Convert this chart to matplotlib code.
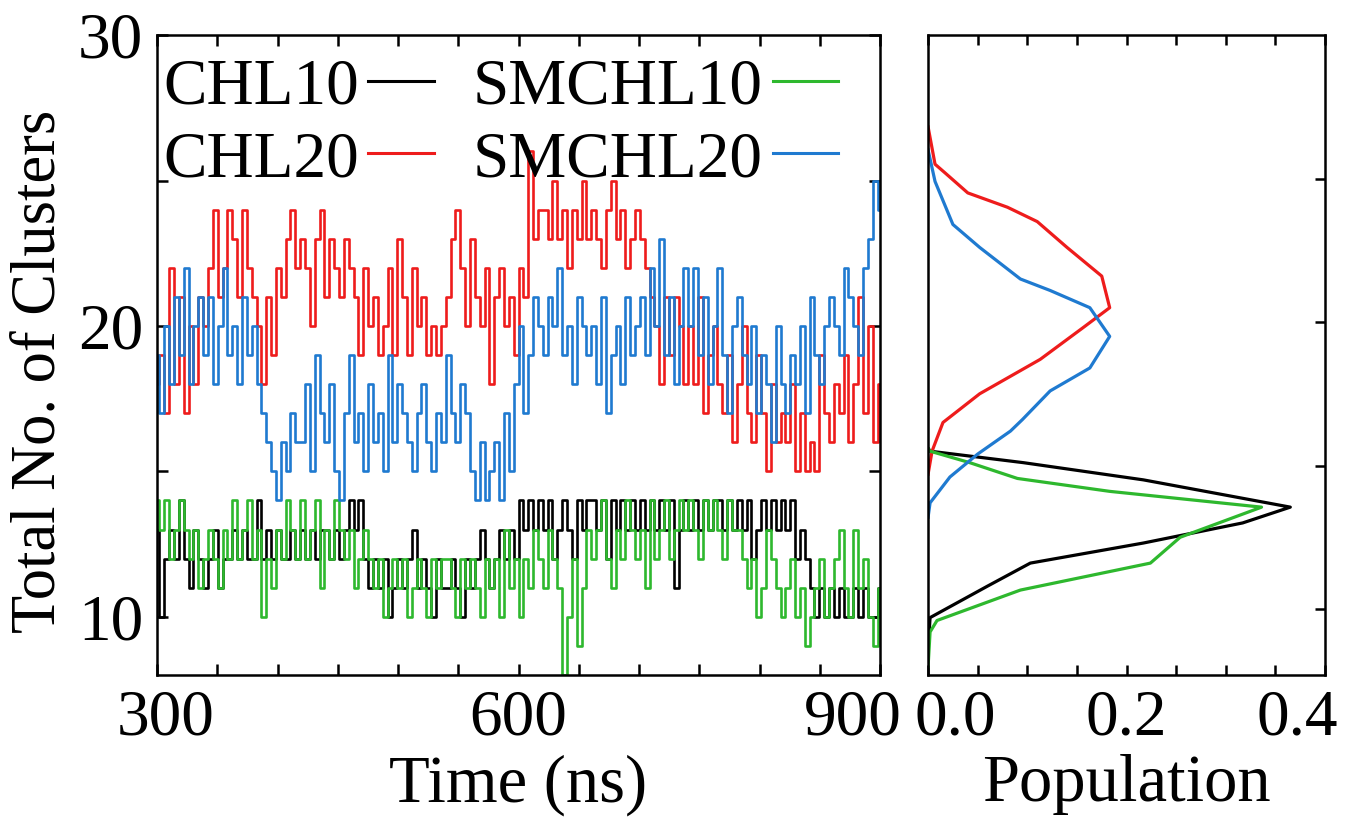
import numpy as np
import matplotlib
matplotlib.use("Agg")
import matplotlib.pyplot as plt
import matplotlib.transforms as mtransforms
from matplotlib.lines import Line2D

plt.rcParams['font.family'] = ['Liberation Serif', 'DejaVu Serif']

# cluster counts, one sample every 4 ns from 300 ns
chl10 = [13, 10, 12, 13, 12, 14, 12, 11, 13, 12,
         11, 12, 13, 11, 12, 12, 13, 12, 13, 12,
         12, 14, 12, 13, 12, 13, 12, 12, 13, 12,
         13, 12, 13, 12, 13, 13, 12, 13, 12, 13,
         14, 13, 14, 12, 11, 12, 11, 12, 10, 11,
         12, 11, 12, 13, 11, 12, 11, 10, 12, 11,
         11, 12, 11, 10, 12, 11, 12, 13, 12, 11,
         12, 13, 12, 13, 12, 14, 13, 14, 13, 14,
         13, 14, 12, 13, 14, 13, 12, 14, 13, 14,
         14, 13, 14, 12, 14, 13, 14, 13, 14, 13,
         14, 13, 14, 13, 14, 13, 14, 11, 13, 14,
         13, 14, 13, 14, 13, 14, 14, 13, 14, 13,
         14, 13, 14, 12, 13, 14, 13, 14, 13, 14,
         13, 14, 12, 13, 12, 11, 10, 11, 10, 11,
         10, 11, 10, 10, 11, 10, 11, 10, 10, 11]

chl20 = [18, 19, 17, 22, 18, 21, 17, 20, 18, 21,
         20, 22, 24, 21, 22, 24, 23, 21, 24, 22,
         21, 20, 18, 21, 19, 22, 21, 23, 24, 22,
         23, 22, 20, 23, 24, 21, 23, 22, 21, 23,
         22, 21, 19, 22, 20, 21, 19, 20, 22, 19,
         23, 21, 19, 22, 20, 21, 19, 20, 19, 20,
         21, 23, 24, 22, 20, 23, 21, 20, 22, 18,
         21, 22, 20, 21, 19, 22, 21, 26, 23, 24,
         24, 23, 25, 23, 24, 22, 24, 23, 25, 23,
         24, 23, 22, 24, 25, 23, 24, 22, 23, 24,
         23, 22, 21, 20, 18, 21, 19, 21, 20, 18,
         20, 18, 21, 17, 19, 20, 18, 17, 19, 16,
         18, 20, 17, 16, 19, 17, 15, 18, 16, 17,
         16, 18, 15, 17, 15, 16, 15, 19, 17, 16,
         18, 17, 19, 16, 18, 21, 17, 20, 16, 18]

smchl10 = [14, 13, 14, 12, 13, 14, 13, 12, 13, 11,
           12, 13, 12, 11, 13, 12, 14, 12, 13, 14,
           12, 13, 10, 12, 11, 13, 12, 14, 13, 12,
           14, 12, 13, 14, 11, 13, 12, 14, 13, 12,
           13, 11, 12, 13, 12, 11, 12, 10, 11, 12,
           11, 12, 10, 11, 12, 11, 10, 12, 11, 12,
           12, 11, 10, 12, 11, 12, 11, 10, 12, 11,
           12, 10, 13, 11, 12, 10, 12, 11, 13, 12,
           11, 13, 12, 11, 8, 10, 12, 9, 11, 13,
           12, 13, 14, 12, 11, 13, 12, 14, 13, 12,
           13, 11, 14, 12, 13, 14, 12, 13, 14, 13,
           14, 13, 12, 14, 13, 14, 13, 12, 14, 13,
           13, 12, 11, 12, 10, 11, 13, 12, 11, 10,
           11, 12, 10, 11, 9, 10, 11, 12, 10, 11,
           12, 13, 11, 10, 13, 11, 12, 10, 9, 11]

smchl20 = [19, 17, 20, 18, 21, 19, 22, 18, 20, 21,
           19, 21, 18, 20, 22, 19, 20, 18, 21, 19,
           20, 18, 17, 16, 15, 14, 16, 15, 17, 16,
           16, 18, 15, 19, 17, 16, 18, 15, 14, 17,
           19, 16, 17, 15, 18, 16, 17, 15, 19, 16,
           18, 17, 16, 15, 17, 18, 16, 15, 17, 16,
           19, 17, 16, 18, 17, 15, 14, 16, 14, 15,
           16, 14, 17, 15, 18, 20, 17, 19, 21, 20,
           19, 21, 20, 22, 19, 20, 18, 21, 20, 19,
           20, 18, 21, 17, 19, 20, 18, 21, 19, 20,
           21, 19, 22, 20, 23, 19, 21, 18, 20, 22,
           20, 22, 19, 21, 18, 20, 22, 19, 17, 20,
           21, 19, 18, 20, 17, 19, 18, 16, 20, 18,
           17, 19, 18, 20, 17, 21, 19, 18, 20, 21,
           20, 19, 22, 21, 20, 19, 22, 23, 25, 24]

# population distributions (population, number of clusters)
pop_chl10 = [0.0, 0.002, 0.096, 0.217, 0.365, 0.317, 0.217, 0.103, 0.06, 0.002, 0.0]
n_chl10 = [15.6, 15.5, 15.1, 14.5, 13.55, 13.0, 12.3, 11.6, 10.8, 9.7, 8.6]
pop_chl20 = [0.0, 0.007, 0.017, 0.04, 0.08, 0.11, 0.14, 0.175, 0.183, 0.156,
             0.113, 0.052, 0.015, 0.004, 0.0]
n_chl20 = [26.8, 25.5, 25.2, 24.5, 24.0, 23.5, 22.6, 21.6, 20.5, 19.8,
           18.7, 17.5, 16.5, 15.5, 14.7]
pop_smchl10 = [0.0, 0.002, 0.042, 0.09, 0.183, 0.336, 0.254, 0.224, 0.093, 0.009, 0.002, 0.0]
n_smchl10 = [15.6, 15.5, 15.1, 14.55, 14.1, 13.55, 12.5, 11.6, 10.66, 9.6, 9.2, 8.0]
pop_smchl20 = [0.0, 0.007, 0.025, 0.052, 0.093, 0.123, 0.163, 0.183, 0.163, 0.123,
               0.095, 0.083, 0.05, 0.022, 0.002, 0.0]
n_smchl20 = [26.0, 24.9, 23.4, 22.6, 21.5, 21.1, 20.5, 19.5, 18.4, 17.6,
             16.6, 16.2, 15.4, 14.6, 13.7, 13.2]

labels = ["CHL10", "CHL20", "SMCHL10", "SMCHL20"]
colors = {"CHL10": "black", "CHL20": "#ee1c1c", "SMCHL10": "#2eb82e", "SMCHL20": "#1f7ad0"}

time = np.linspace(300, 900, len(chl10))

fig = plt.figure(figsize=(13.47, 8.23), dpi=100)
ax = fig.add_axes([0.1166, 0.1798, 0.5367, 0.7776])
ax2 = fig.add_axes([0.6890, 0.1798, 0.2947, 0.7776])

# time series
ax.plot(time, chl10, color=colors["CHL10"], lw=1.9, drawstyle='steps-mid')
ax.plot(time, chl20, color=colors["CHL20"], lw=1.9, drawstyle='steps-mid')
ax.plot(time, smchl10, color=colors["SMCHL10"], lw=1.9, drawstyle='steps-mid')
ax.plot(time, smchl20, color=colors["SMCHL20"], lw=1.9, drawstyle='steps-mid')

ax.set_xlim(300, 900)
ax.set_ylim(8, 30)
ax.set_xticks(np.arange(300, 901, 50))
ax.set_xticklabels(["300" if t == 300 else "600" if t == 600 else "900" if t == 900 else ""
                    for t in range(300, 901, 50)])
ax.set_yticks([10, 15, 20, 25, 30])
ax.set_yticklabels(["10", "", "20", "", "30"])
ax.tick_params(direction='in', top=True, right=True, length=8, width=1.8,
               labelsize=47, pad=10)
ax.set_xlabel("Time (ns)", fontsize=48, labelpad=4)
ax.set_ylabel("Total No. of Clusters", fontsize=45)
ax.yaxis.set_label_coords(-0.122, 0.475)

handles = [Line2D([], [], color=colors[k], lw=2.2) for k in labels]
ax.legend(handles, labels, ncol=2, loc='upper left', bbox_to_anchor=(-0.01, 0.985),
          frameon=False, markerfirst=False, fontsize=47, handlelength=1.0,
          handletextpad=0.15, columnspacing=0.6, labelspacing=0.2, borderpad=0.1,
          borderaxespad=0.1)

# population
ax2.plot(pop_chl10, n_chl10, color=colors["CHL10"], lw=2.3)
ax2.plot(pop_chl20, n_chl20, color=colors["CHL20"], lw=2.3)
ax2.plot(pop_smchl10, n_smchl10, color=colors["SMCHL10"], lw=2.3)
ax2.plot(pop_smchl20, n_smchl20, color=colors["SMCHL20"], lw=2.3)
ax2.set_xlim(0, 0.4)
ax2.set_ylim(7.7, 30)
ax2.set_xticks(np.arange(0, 0.401, 0.05))
ax2.set_xticklabels(["0.0", "", "", "", "0.2", "", "", "", "0.4"])
ax2.set_yticks([10, 15, 20, 25])
ax2.tick_params(direction='in', top=True, right=True, left=False, labelleft=False,
                length=7, width=1.8, labelsize=47, pad=10)
ax2.set_xlabel("Population", fontsize=48, labelpad=4)

for a in (ax, ax2):
    for s in a.spines.values():
        s.set_linewidth(1.8)

# nudge the end tick labels inward
def shift(label, dx):
    off = mtransforms.ScaledTranslation(dx / 100.0, 0, fig.dpi_scale_trans)
    label.set_transform(label.get_transform() + off)

xl = ax.get_xticklabels()
shift(xl[0], 9)
shift(xl[-1], -27)
xl2 = ax2.get_xticklabels()
shift(xl2[0], 27)
shift(xl2[-1], -28)

fig.savefig("out.png", dpi=100)
